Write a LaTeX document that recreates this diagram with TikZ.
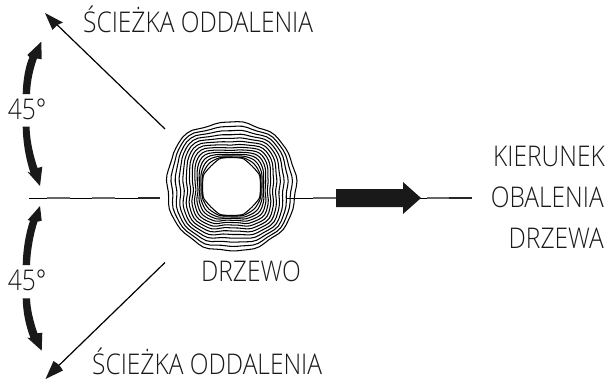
\documentclass[tikz,border=0pt]{standalone}
\usepackage{fontspec}
\setmainfont{Open Sans Light}[FakeStretch=0.86]
\definecolor{ink}{gray}{0.1}
\tikzset{
  lbl/.style={font=\fontsize{28.5}{28.5}\selectfont, text=black!90, inner sep=0pt},
  thinline/.style={line width=0.8pt, draw=black},
  graydash/.style={line width=1.6pt, draw=black!60},
  darkdash/.style={line width=1.6pt, draw=black!85},
  ring/.style={line width=1.05pt, draw=black},
  pathline/.style={line width=1.2pt, draw=black},
  declare function={
    diagw(\t)=(1-cos(4*\t))/2;
    octr(\t)=0.6*(28.5/cos(mod(\t+22.5,45)-22.5)-28.5);
    ringr(\t,\u)=29+octr(\t)*(1-\u)+(35.5+2*diagw(\t))*\u^(1+0.7*(1-diagw(\t)))
      +\u*(0.7*sin(9*\t+30)+0.55*sin(15*\t)+3.5*max(0,1-abs(\t-137)/18));
  }
}
\begin{document}
\begin{tikzpicture}[x=1pt,y=-1pt]
\useasboundingbox (0,0) rectangle (606,381);
% tree rings
\foreach \k in {0,...,13}{
  \pgfmathsetmacro{\uu}{(\k+0.002)/13.002}
  \draw[ring] plot[smooth cycle, tension=0.7, samples=72, domain=0:355, variable=\t]
   ({231.5+ringr(\t,\uu)*cos(\t)}, {186.5-ringr(\t,\uu)*sin(\t)});
}
% named points
\coordinate (ulstart) at (165,129);
\coordinate (ultip) at (45,13);
\coordinate (llstart) at (165,262.5);
\coordinate (lltip) at (45.5,379);
\coordinate (hl) at (29,198);
\coordinate (hr) at (160,198);
\coordinate (rs) at (287,198);
\coordinate (re) at (472,198);
% diagonal arrows
\draw[pathline] (ulstart) -- (57.3,25);
\fill[ink] (ultip) -- (63,22.5) -- (57.3,25) -- (52.5,30) -- cycle;
\draw[pathline] (llstart) -- (59.3,365);
\fill[ink] (lltip) -- (53.5,361) -- (59.3,365) -- (63,370.5) -- cycle;
% left axis
\draw[thinline] (hl) -- (hr);
\foreach \a/\b in {47/70,92/115}{\draw[graydash] (\a,198) -- (\b,198);}
\draw[darkdash] (138,198) -- (hr);
% right axis
\draw[thinline] (rs) -- (re);
\draw[graydash] (313,198) -- (336,198);
\draw[graydash] (427,198) -- (449,198);
\draw[darkdash] (449,198) -- (re);
\fill[ink] (336,189) -- (403,189) -- (403,182) -- (421,198) -- (403,214) -- (403,207) -- (336,207) -- cycle;
% curved arrows
\fill[ink] (41.3,41.7) -- (41.7,59.3) -- (37,58.5) .. controls (33.5,68) and (30.5,80) .. (30,94) -- (22.7,94) .. controls (23,80) and (25.5,66) .. (29.5,57) -- (27.3,55) -- cycle;
\fill[ink] (22.7,126.7) -- (29.5,126.7) .. controls (30,142) and (33.5,156) .. (37.5,168) -- (42.3,166.7) -- (40,186) -- (27.3,171.7) -- (30.5,173) .. controls (25.5,158) and (23,142) .. cycle;
\fill[ink] (40,206) -- (41.7,220.7) -- (37.5,221.7) .. controls (33.5,234) and (30.5,250) .. (30,265) -- (22.7,265) .. controls (23,250) and (25.5,234) .. (30,220.7) -- (27.7,220) -- cycle;
\fill[ink] (22.7,298.3) -- (30,298.3) .. controls (30.5,310) and (33.5,322) .. (37.5,333.3) -- (42.3,332.7) -- (41.7,350.7) -- (27.3,337.7) -- (30.5,338) .. controls (25.5,325) and (23,312) .. cycle;
% labels
\node[lbl, anchor=base west] (top) at (83,32.5) {ŚCIEŻKA ODDALENIA};
\node[lbl, anchor=base west] (bot) at (92,374) {ŚCIEŻKA ODDALENIA};
\node[lbl, anchor=base east] (k1) at (605,166) {KIERUNEK};
\node[lbl, anchor=base east] (k2) at (604,207.3) {OBALENIA};
\node[lbl, anchor=base east] (k3) at (604,248) {DRZEWA};
\node[lbl, anchor=base] (tree) at (251,281) {DRZEWO};
\node[lbl, anchor=base] (a1) at (27,119) {45°};
\node[lbl, anchor=base] (a2) at (27,290) {45°};
\end{tikzpicture}
\end{document}
